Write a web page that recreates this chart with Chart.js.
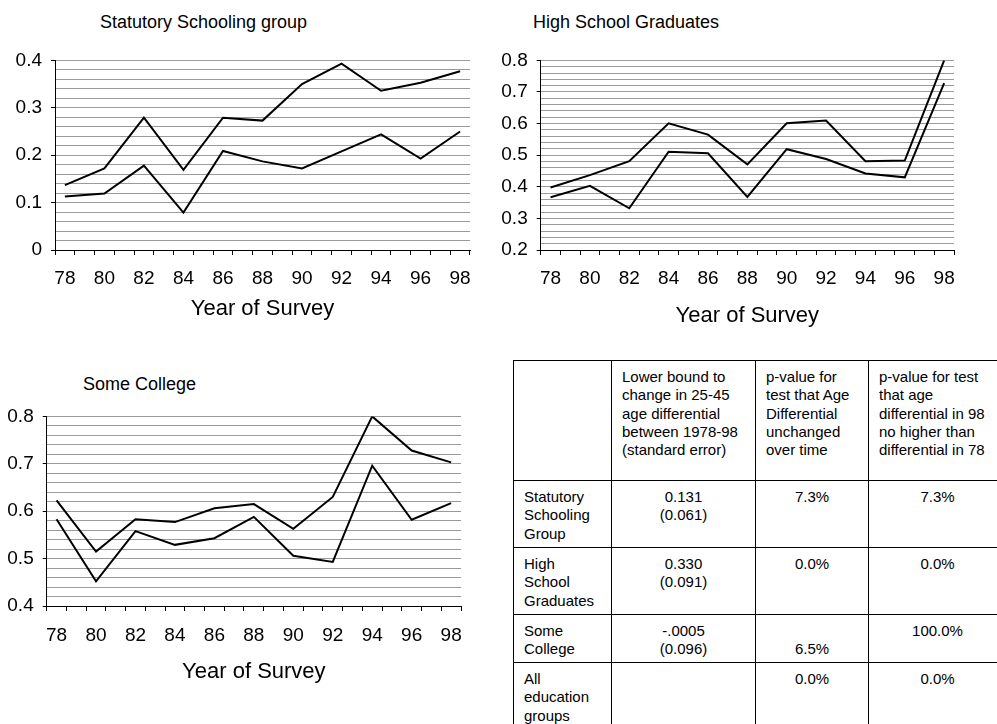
<!DOCTYPE html>
<html><head><meta charset="utf-8">
<script src="https://cdn.jsdelivr.net/npm/chart.js@4.4.1/dist/chart.umd.min.js"></script>
<style>
html,body{margin:0;padding:0;background:#fff;}
body{width:997px;height:724px;overflow:hidden;position:relative;font-family:"Liberation Sans",Arial,sans-serif;color:#000;}
canvas{position:absolute;}
.ptitle{position:absolute;font-size:18px;line-height:18px;white-space:nowrap;}
#tbl{position:absolute;left:513px;top:360px;width:493px;border-collapse:collapse;table-layout:fixed;font-size:15px;line-height:18.3px;}
#tbl td{border:1px solid #000;vertical-align:top;padding:7px 4px 0 10px;white-space:nowrap;overflow:hidden;}
#tbl td.v{text-align:center;padding-left:4px;padding-right:4px;}
</style></head><body>
<div class="ptitle" id="t1" style="left:100px;top:12.6px;"></div>
<div class="ptitle" id="t2" style="left:533px;top:12.6px;"></div>
<div class="ptitle" id="t3" style="left:83px;top:374.6px;"></div>
<canvas id="c1" width="480" height="282" style="left:0px;top:40px;"></canvas>
<canvas id="c2" width="474" height="289" style="left:490px;top:40px;"></canvas>
<canvas id="c3" width="471" height="289" style="left:0px;top:396px;"></canvas>
<table id="tbl"><colgroup><col style="width:98px"><col style="width:144px"><col style="width:113px"><col style="width:138px"></colgroup><tbody id="tb"></tbody></table>
<script>
// ---- data ----
const years = ['78','79','80','81','82','83','84','85','86','87','88','89','90','91','92','93','94','95','96','97','98'];
const panelTitles = ['Statutory Schooling group', 'High School Graduates', 'Some College'];
const xAxisTitle = 'Year of Survey';

const statUpper = [0.137, null, 0.172, null, 0.279, null, 0.169, null, 0.279, null, 0.273, null, 0.350, null, 0.393, null, 0.336, null, 0.353, null, 0.377];
const statLower = [0.113, null, 0.119, null, 0.178, null, 0.079, null, 0.209, null, 0.187, null, 0.172, null, 0.208, null, 0.244, null, 0.193, null, 0.250];

const hsUpper = [0.398, null, 0.437, null, 0.481, null, 0.601, null, 0.565, null, 0.471, null, 0.601, null, 0.610, null, 0.481, null, 0.483, null, 0.800];
const hsLower = [0.367, null, 0.403, null, 0.332, null, 0.511, null, 0.506, null, 0.368, null, 0.519, null, 0.488, null, 0.442, null, 0.430, null, 0.728];

const scUpper = [0.623, null, 0.515, null, 0.583, null, 0.577, null, 0.606, null, 0.615, null, 0.563, null, 0.630, null, 0.800, null, 0.728, null, 0.703];
const scLower = [0.583, null, 0.452, null, 0.558, null, 0.529, null, 0.543, null, 0.588, null, 0.506, null, 0.493, null, 0.696, null, 0.582, null, 0.617];

const tableHeader = [
  [],
  ['Lower bound to', 'change in 25-45', 'age differential', 'between 1978-98', '(standard error)'],
  ['p-value for', 'test that Age', 'Differential', 'unchanged', 'over time'],
  ['p-value for test', 'that age', 'differential in 98', 'no higher than', 'differential in 78']
];
const tableGroups = [['Statutory', 'Schooling', 'Group'], ['High', 'School', 'Graduates'], ['Some', 'College'], ['All', 'education', 'groups']];
const lowerBound = ['0.131', '0.330', '-.0005', ''];
const stdError = ['(0.061)', '(0.091)', '(0.096)', ''];
const pUnchanged = ['7.3%', '0.0%', '6.5%', '0.0%'];
const pNoHigher = ['7.3%', '0.0%', '100.0%', '0.0%'];

// ---- layout / style ----
const rowHeights = [120, 67, 67, 48, 67];
const pUnchangedOnSecondLine = [false, false, true, false];

Chart.defaults.color = '#000';
Chart.defaults.font.family = "'Liberation Sans', Arial, sans-serif";

document.getElementById('t1').textContent = panelTitles[0];
document.getElementById('t2').textContent = panelTitles[1];
document.getElementById('t3').textContent = panelTitles[2];

function isMajor(v) { return Math.abs(v * 10 - Math.round(v * 10)) < 1e-6; }

function makeChart(id, upper, lower, ymin, ymax, yWidth, xHeight, xLabelLH) {
  new Chart(document.getElementById(id), {
    type: 'line',
    data: {
      labels: years,
      datasets: [
        { data: upper, borderColor: '#000', borderWidth: 2, pointRadius: 0, tension: 0, spanGaps: true },
        { data: lower, borderColor: '#000', borderWidth: 2, pointRadius: 0, tension: 0, spanGaps: true }
      ]
    },
    options: {
      responsive: false, animation: false, devicePixelRatio: 1,
      layout: { autoPadding: false, padding: { top: 15.7, right: 10, bottom: 0, left: 0 } },
      plugins: { legend: { display: false }, tooltip: { enabled: false }, title: { display: false } },
      scales: {
        x: {
          type: 'category', offset: true,
          grid: { offset: true, drawOnChartArea: false, drawTicks: true, tickLength: 5, tickColor: '#000', tickWidth: 1 },
          border: { display: true, color: '#000', width: 1 },
          ticks: {
            autoSkip: false, maxRotation: 0, minRotation: 0, padding: 3,
            font: { size: 19, lineHeight: xLabelLH },
            callback: function (v, i) { return i % 2 === 0 ? years[i] : ''; }
          },
          title: { display: true, text: xAxisTitle, font: { size: 22 }, padding: { top: 0, bottom: 0 } },
          afterFit: function (s) { s.height = xHeight; }
        },
        y: {
          min: ymin, max: ymax,
          grid: {
            color: function (c) { return c.index === 0 ? 'rgba(0,0,0,0)' : '#9a9a9a'; },
            tickColor: function (c) { return (c.tick && isMajor(c.tick.value)) ? '#000' : 'rgba(0,0,0,0)'; },
            tickLength: 4, lineWidth: 1
          },
          border: { display: true, color: '#000', width: 1 },
          ticks: {
            stepSize: 0.02, autoSkip: false, padding: 9, font: { size: 19 },
            callback: function (v) {
              if (!isMajor(v)) return '';
              const r = Math.round(v * 10);
              return r === 0 ? '0' : (r / 10).toFixed(1);
            }
          },
          afterFit: function (s) { s.width = yWidth; }
        }
      }
    }
  });
}

makeChart('c1', statUpper, statLower, 0, 0.4, 55, 72, '42px');
makeChart('c2', hsUpper, hsLower, 0.2, 0.8, 50.7, 79, '42px');
makeChart('c3', scUpper, scLower, 0.4, 0.8, 46.7, 79, '44px');

// ---- table ----
const tb = document.getElementById('tb');
function addRow(cells, h) {
  const tr = document.createElement('tr');
  tr.style.height = h + 'px';
  cells.forEach(function (c) {
    const td = document.createElement('td');
    if (c.cls) td.className = c.cls;
    td.innerHTML = c.lines.map(function (l) { return l === '' ? '&nbsp;' : l.replace(/&/g, '&amp;').replace(/</g, '&lt;'); }).join('<br>');
    tr.appendChild(td);
  });
  tb.appendChild(tr);
}
addRow(tableHeader.map(function (h) { return { lines: h.length ? h : [''] }; }), rowHeights[0]);
for (let i = 0; i < tableGroups.length; i++) {
  addRow([
    { lines: tableGroups[i] },
    { lines: lowerBound[i] ? [lowerBound[i], stdError[i]] : [''], cls: 'v' },
    { lines: pUnchangedOnSecondLine[i] ? ['', pUnchanged[i]] : [pUnchanged[i]], cls: 'v' },
    { lines: [pNoHigher[i]], cls: 'v' }
  ], rowHeights[i + 1]);
}
</script>
</body></html>
